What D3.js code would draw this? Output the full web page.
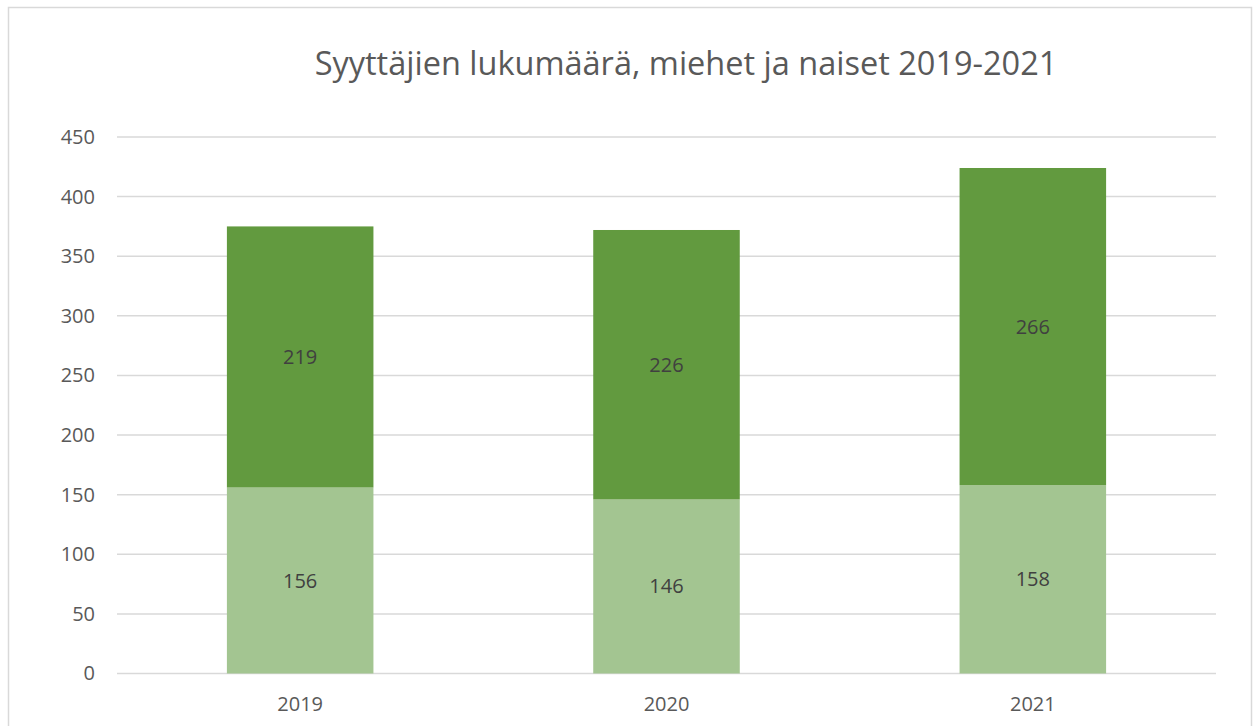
<!DOCTYPE html>
<html>
<head>
<meta charset="utf-8">
<script src="https://cdn.jsdelivr.net/npm/d3@7"></script>
<style>
  body { margin: 0; background: #fff; }
  text { font-family: "Open Sans", "DejaVu Sans", sans-serif; }
</style>
</head>
<body>
<svg id="chart" width="1256" height="726"></svg>
<script>
const years = ["2019", "2020", "2021"];
const naiset = [156, 146, 158];
const miehet = [219, 226, 266];
const yTicks = [0, 50, 100, 150, 200, 250, 300, 350, 400, 450];
const title = "Syyttäjien lukumäärä, miehet ja naiset 2019-2021";

const svg = d3.select("#chart");
const margin = { top: 137, right: 40, bottom: 52.5, left: 117 };
const plotW = 1216 - margin.left;
const plotH = 673.5 - margin.top;

// outer chart border
svg.append("rect")
  .attr("x", 8.5).attr("y", 7.5)
  .attr("width", 1243).attr("height", 730)
  .attr("fill", "none").attr("stroke", "#d9d9d9").attr("stroke-width", 1.5);

svg.append("text")
  .attr("x", 686).attr("y", 75)
  .attr("text-anchor", "middle")
  .attr("fill", "#595959")
  .style("font-size", "32.5px")
  .text(title);

const g = svg.append("g").attr("transform", `translate(${margin.left},${margin.top})`);

const x = d3.scaleBand().domain(years).range([0, plotW]).paddingInner(0.6).paddingOuter(0.3);
const y = d3.scaleLinear().domain([0, 450]).range([plotH, 0]);

// gridlines
g.selectAll("line.grid").data(yTicks)
  .join("line")
  .attr("class", "grid")
  .attr("x1", 0).attr("x2", plotW)
  .attr("y1", d => y(d)).attr("y2", d => y(d))
  .attr("stroke", "#d9d9d9").attr("stroke-width", 1.5);

const yAxis = g.append("g")
  .call(d3.axisLeft(y).tickValues(yTicks).tickSize(0).tickPadding(22));
yAxis.select(".domain").remove();
yAxis.selectAll("text").attr("fill", "#595959").style("font-size", "20px");

const stackData = years.map((yr, i) => ({ year: yr, naiset: naiset[i], miehet: miehet[i] }));
const series = d3.stack().keys(["naiset", "miehet"])(stackData);
const colors = { naiset: "#a3c591", miehet: "#629a3f" };

const layers = g.selectAll("g.layer").data(series)
  .join("g").attr("class", "layer")
  .attr("fill", d => colors[d.key]);

layers.selectAll("rect").data(d => d)
  .join("rect")
  .attr("x", d => x(d.data.year))
  .attr("width", x.bandwidth())
  .attr("y", d => y(d[1]))
  .attr("height", d => y(d[0]) - y(d[1]));

layers.selectAll("text").data(d => d)
  .join("text")
  .attr("x", d => x(d.data.year) + x.bandwidth() / 2)
  .attr("y", d => (y(d[0]) + y(d[1])) / 2)
  .attr("dy", "0.35em")
  .attr("text-anchor", "middle")
  .attr("fill", "#404040")
  .style("font-size", "20px")
  .text(d => d[1] - d[0]);

const xAxis = g.append("g")
  .attr("transform", `translate(0,${plotH})`)
  .call(d3.axisBottom(x).tickSize(0).tickPadding(23));
xAxis.select(".domain").remove();
xAxis.selectAll("text").attr("fill", "#595959").style("font-size", "20px");
</script>
</body>
</html>
